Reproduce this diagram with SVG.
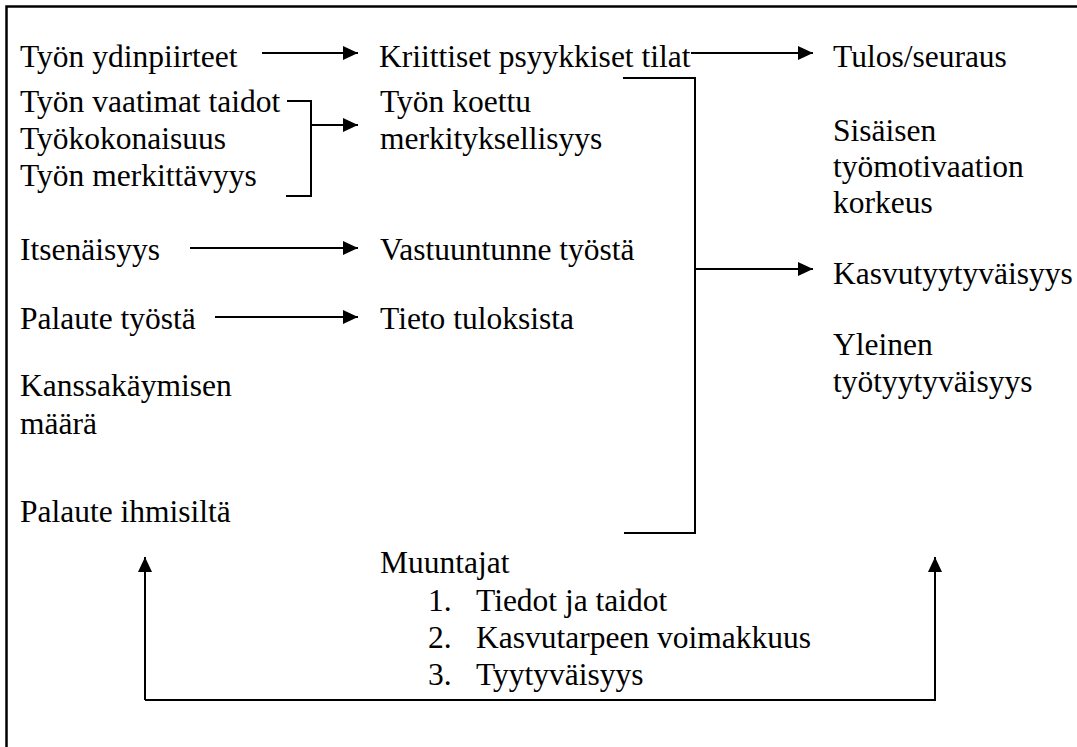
<svg xmlns="http://www.w3.org/2000/svg" width="1077" height="747" viewBox="0 0 1077 747">
<style>
text{font-family:"Liberation Serif",Tinos,"Times New Roman",Times,"DejaVu Serif",serif;font-size:31.5px;fill:#000}
.c{fill:none;stroke:#000;stroke-width:2}
.f{fill:none;stroke:#000;stroke-width:2.5}
</style>
<defs>
<marker id="ah" viewBox="0 0 15 14" refX="15" refY="7" markerWidth="15" markerHeight="14" markerUnits="userSpaceOnUse" orient="auto">
<path d="M0,0 L15,7 L0,14 Z" fill="#000"/>
</marker>
</defs>
<rect width="1077" height="747" fill="#fff"/>
<g id="frame">
<path class="f" d="M6.5,747 V6.5 H1077"/>
</g>
<g id="n1"><text x="20" y="67">Työn ydinpiirteet</text></g>
<g id="n2"><text x="379" y="67">Kriittiset psyykkiset tilat</text></g>
<g id="n3"><text x="833" y="67">Tulos/seuraus</text></g>
<g id="n4"><text x="20" y="112">Työn vaatimat taidot</text><text x="20" y="149">Työkokonaisuus</text><text x="20" y="186">Työn merkittävyys</text></g>
<g id="n5"><text x="380" y="112">Työn koettu</text><text x="380" y="149">merkityksellisyys</text></g>
<g id="n6"><text x="833" y="141">Sisäisen</text><text x="833" y="177">työmotivaation</text><text x="833" y="213">korkeus</text></g>
<g id="n7"><text x="20" y="260">Itsenäisyys</text></g>
<g id="n8"><text x="380" y="260">Vastuuntunne työstä</text></g>
<g id="n9"><text x="833" y="284">Kasvutyytyväisyys</text></g>
<g id="n10"><text x="20" y="329">Palaute työstä</text></g>
<g id="n11"><text x="380" y="329">Tieto tuloksista</text></g>
<g id="n12"><text x="833" y="355">Yleinen</text><text x="833" y="392">työtyytyväisyys</text></g>
<g id="n13"><text x="20" y="396">Kanssakäymisen</text><text x="20" y="434">määrä</text></g>
<g id="n14"><text x="20" y="522">Palaute ihmisiltä</text></g>
<g id="n15"><text x="380" y="573">Muuntajat</text>
<text x="428" y="611">1.</text><text x="476" y="611">Tiedot ja taidot</text>
<text x="428" y="648">2.</text><text x="476" y="648">Kasvutarpeen voimakkuus</text>
<text x="428" y="685">3.</text><text x="476" y="685">Tyytyväisyys</text></g>
<g id="connectors">
<path class="c" d="M262,53 H358" marker-end="url(#ah)"/>
<path class="c" d="M691,53 H813" marker-end="url(#ah)"/>
<path class="c" d="M287,101 H311 V196 H286"/>
<path class="c" d="M311,125 H358" marker-end="url(#ah)"/>
<path class="c" d="M623,78 H695 V533 H624"/>
<path class="c" d="M695,269 H813" marker-end="url(#ah)"/>
<path class="c" d="M190,248 H358" marker-end="url(#ah)"/>
<path class="c" d="M215,317 H358" marker-end="url(#ah)"/>
<path class="c" d="M145,700 V557" marker-end="url(#ah)"/>
<path class="c" d="M145,700 H935 V557" marker-end="url(#ah)"/>
</g>
</svg>
